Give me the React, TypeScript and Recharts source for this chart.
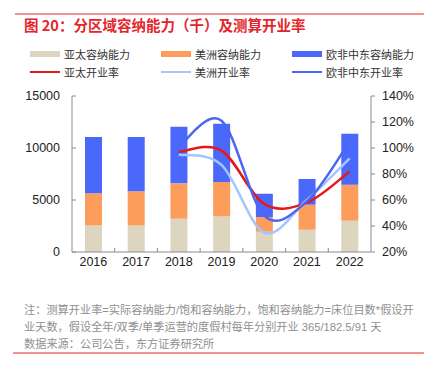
import React from "react";
import {
  ComposedChart,
  Bar,
  Line,
  XAxis,
  YAxis,
  ReferenceLine,
} from "recharts";

const years = ["2016", "2017", "2018", "2019", "2020", "2021", "2022"];
const asiaCap = [2550, 2550, 3200, 3420, 1950, 2140, 3010];
const americasCap = [3100, 3280, 3400, 3310, 1420, 2410, 3460];
const emeaCap = [5400, 5230, 5450, 5610, 2230, 2470, 4900];
const asiaRate: (number | null)[] = [null, null, 97, 98, 57, 58, 82];
const americasRate: (number | null)[] = [null, null, 95, 87, 35, 60, 92];
const emeaRate: (number | null)[] = [null, null, 101, 121, 48, 59, 105];
const leftTicks = [0, 5000, 10000, 15000];
const rightTicks = [20, 40, 60, 80, 100, 120, 140];
const boundaries = [1, 2, 3, 4, 5, 6];

const data = years.map((y, i) => ({
  year: y,
  pos: i + 0.5,
  asiaCap: asiaCap[i],
  americasCap: americasCap[i],
  emeaCap: emeaCap[i],
  asiaRate: asiaRate[i],
  americasRate: americasRate[i],
  emeaRate: emeaRate[i],
}));

// Excel-like smooth line (Catmull-Rom) as a d3-style curve factory
function smoothCurve(context: any) {
  let pts: [number, number][] = [];
  return {
    areaStart() {},
    areaEnd() {},
    lineStart() {
      pts = [];
    },
    point(x: number, y: number) {
      pts.push([+x, +y]);
    },
    lineEnd() {
      const n = pts.length;
      if (!n) return;
      context.moveTo(pts[0][0], pts[0][1]);
      for (let i = 0; i < n - 1; i++) {
        const p0 = pts[i - 1] || pts[i];
        const p1 = pts[i];
        const p2 = pts[i + 1];
        const p3 = pts[i + 2] || p2;
        const c1x = p1[0] + (p2[0] - p0[0]) / 6;
        const c1y = p1[1] + (p2[1] - p0[1]) / 6;
        const c2x = p2[0] - (p3[0] - p1[0]) / 6;
        const c2y = p2[1] - (p3[1] - p1[1]) / 6;
        context.bezierCurveTo(c1x, c1y, c2x, c2y, p2[0], p2[1]);
      }
    },
  };
}

const C = {
  asia: "#ddd5bf",
  americas: "#fd9d5c",
  emea: "#4a69fb",
  asiaLine: "#e4191c",
  americasLine: "#a3c6ff",
  emeaLine: "#4a66f2",
  axis: "#8c8c8c",
};

const legendItems = [
  { label: "亚太容纳能力", color: C.asia, kind: "bar" },
  { label: "美洲容纳能力", color: C.americas, kind: "bar" },
  { label: "欧非中东容纳能力", color: C.emea, kind: "bar" },
  { label: "亚太开业率", color: C.asiaLine, kind: "line" },
  { label: "美洲开业率", color: C.americasLine, kind: "line" },
  { label: "欧非中东开业率", color: C.emeaLine, kind: "line" },
];
const legendCols = [30, 161, 292];
const legendRows = [54, 72];

const cjk = '"Liberation Sans", "Noto Sans CJK SC", sans-serif';
const tickStyle = { fill: "#222", fontSize: 12.5, fontFamily: '"Liberation Sans", Arial, sans-serif' };

export default function App() {
  return (
    <div
      style={{
        position: "absolute",
        left: 0,
        top: 0,
        width: 424,
        height: 366,
        background: "#fff",
        overflow: "hidden",
        fontFamily: cjk,
      }}
    >
      <div style={{ position: "absolute", left: 15, top: 13, width: 409, height: 2, background: "#f29393" }} />
      <div
        style={{
          position: "absolute",
          left: 24,
          top: 16,
          fontSize: 14.5,
          lineHeight: "18px",
          color: "#e3262b",
          fontWeight: 700,
          whiteSpace: "nowrap",
          fontFamily: '"Noto Sans CJK SC", sans-serif',
        }}
      >
        图 20：分区域容纳能力（千）及测算开业率
      </div>
      {legendItems.map((it, i) => {
        const x = legendCols[i % 3];
        const y = legendRows[Math.floor(i / 3)];
        return (
          <React.Fragment key={it.label}>
            <div
              style={{
                position: "absolute",
                left: x,
                top: it.kind === "bar" ? y - 3 : y - 1.25,
                width: 30,
                height: it.kind === "bar" ? 6 : 2.5,
                background: it.color,
              }}
            />
            <div
              style={{
                position: "absolute",
                left: x + 34,
                top: y - 8,
                fontSize: 11,
                lineHeight: "16px",
                color: "#333",
                whiteSpace: "nowrap",
                fontFamily: '"Noto Sans CJK SC", sans-serif',
              }}
            >
              {it.label}
            </div>
          </React.Fragment>
        );
      })}
      <div style={{ position: "absolute", left: 0, top: 86 }}>
        <ComposedChart
          width={424}
          height={190}
          data={data}
          margin={{ top: 10, right: 3, bottom: 0, left: 0 }}
          barCategoryGap={0}
        >
          <XAxis
            xAxisId="c"
            dataKey="year"
            height={24}
            axisLine={{ stroke: C.axis }}
            tickLine={false}
            tickSize={0}
            tickMargin={5}
            tick={tickStyle}
            interval={0}
          />
          <XAxis xAxisId="n" type="number" dataKey="pos" domain={[0, 7]} hide allowDataOverflow />
          <YAxis
            yAxisId="left"
            orientation="left"
            width={72}
            domain={[0, 15000]}
            ticks={leftTicks}
            axisLine={{ stroke: C.axis }}
            tickLine={{ stroke: C.axis }}
            tickSize={-4}
            tickMargin={16}
            tick={tickStyle}
            interval={0}
          />
          <YAxis
            yAxisId="right"
            orientation="right"
            width={50}
            domain={[20, 140]}
            ticks={rightTicks}
            axisLine={{ stroke: C.axis }}
            tickLine={{ stroke: C.axis }}
            tickSize={4}
            tickMargin={7}
            tick={tickStyle}
            tickFormatter={(v: number) => `${v}%`}
            interval={0}
          />
          {boundaries.map((b) => (
            <ReferenceLine
              key={b}
              xAxisId="n"
              yAxisId="left"
              segment={[
                { x: b, y: 0 },
                { x: b, y: 385 },
              ]}
              stroke={C.axis}
            />
          ))}
          <Bar xAxisId="c" yAxisId="left" dataKey="asiaCap" stackId="a" fill={C.asia} barSize={17} isAnimationActive={false} />
          <Bar xAxisId="c" yAxisId="left" dataKey="americasCap" stackId="a" fill={C.americas} barSize={17} isAnimationActive={false} />
          <Bar xAxisId="c" yAxisId="left" dataKey="emeaCap" stackId="a" fill={C.emea} barSize={17} isAnimationActive={false} />
          <Line xAxisId="c" yAxisId="right" dataKey="asiaRate" type={smoothCurve as any} stroke={C.asiaLine} strokeWidth={2.5} dot={false} activeDot={false} isAnimationActive={false} />
          <Line xAxisId="c" yAxisId="right" dataKey="americasRate" type={smoothCurve as any} stroke={C.americasLine} strokeWidth={2.5} dot={false} activeDot={false} isAnimationActive={false} />
          <Line xAxisId="c" yAxisId="right" dataKey="emeaRate" type={smoothCurve as any} stroke={C.emeaLine} strokeWidth={2.5} dot={false} activeDot={false} isAnimationActive={false} />
        </ComposedChart>
      </div>
      <div
        style={{
          position: "absolute",
          left: 24,
          top: 302,
          fontSize: 11.2,
          lineHeight: "17px",
          color: "#8f8f8f",
          whiteSpace: "nowrap",
        }}
      >
        <div>注：测算开业率=实际容纳能力/饱和容纳能力，饱和容纳能力=床位目数*假设开</div>
        <div>业天数，假设全年/双季/单季运营的度假村每年分别开业 365/182.5/91 天</div>
      </div>
      <div
        style={{
          position: "absolute",
          left: 24,
          top: 336,
          fontSize: 11.2,
          lineHeight: "17px",
          color: "#8f8f8f",
          whiteSpace: "nowrap",
        }}
      >
        数据来源：公司公告，东方证券研究所
      </div>
      <div style={{ position: "absolute", left: 13, top: 352, width: 411, height: 2, background: "#f29393" }} />
    </div>
  );
}
